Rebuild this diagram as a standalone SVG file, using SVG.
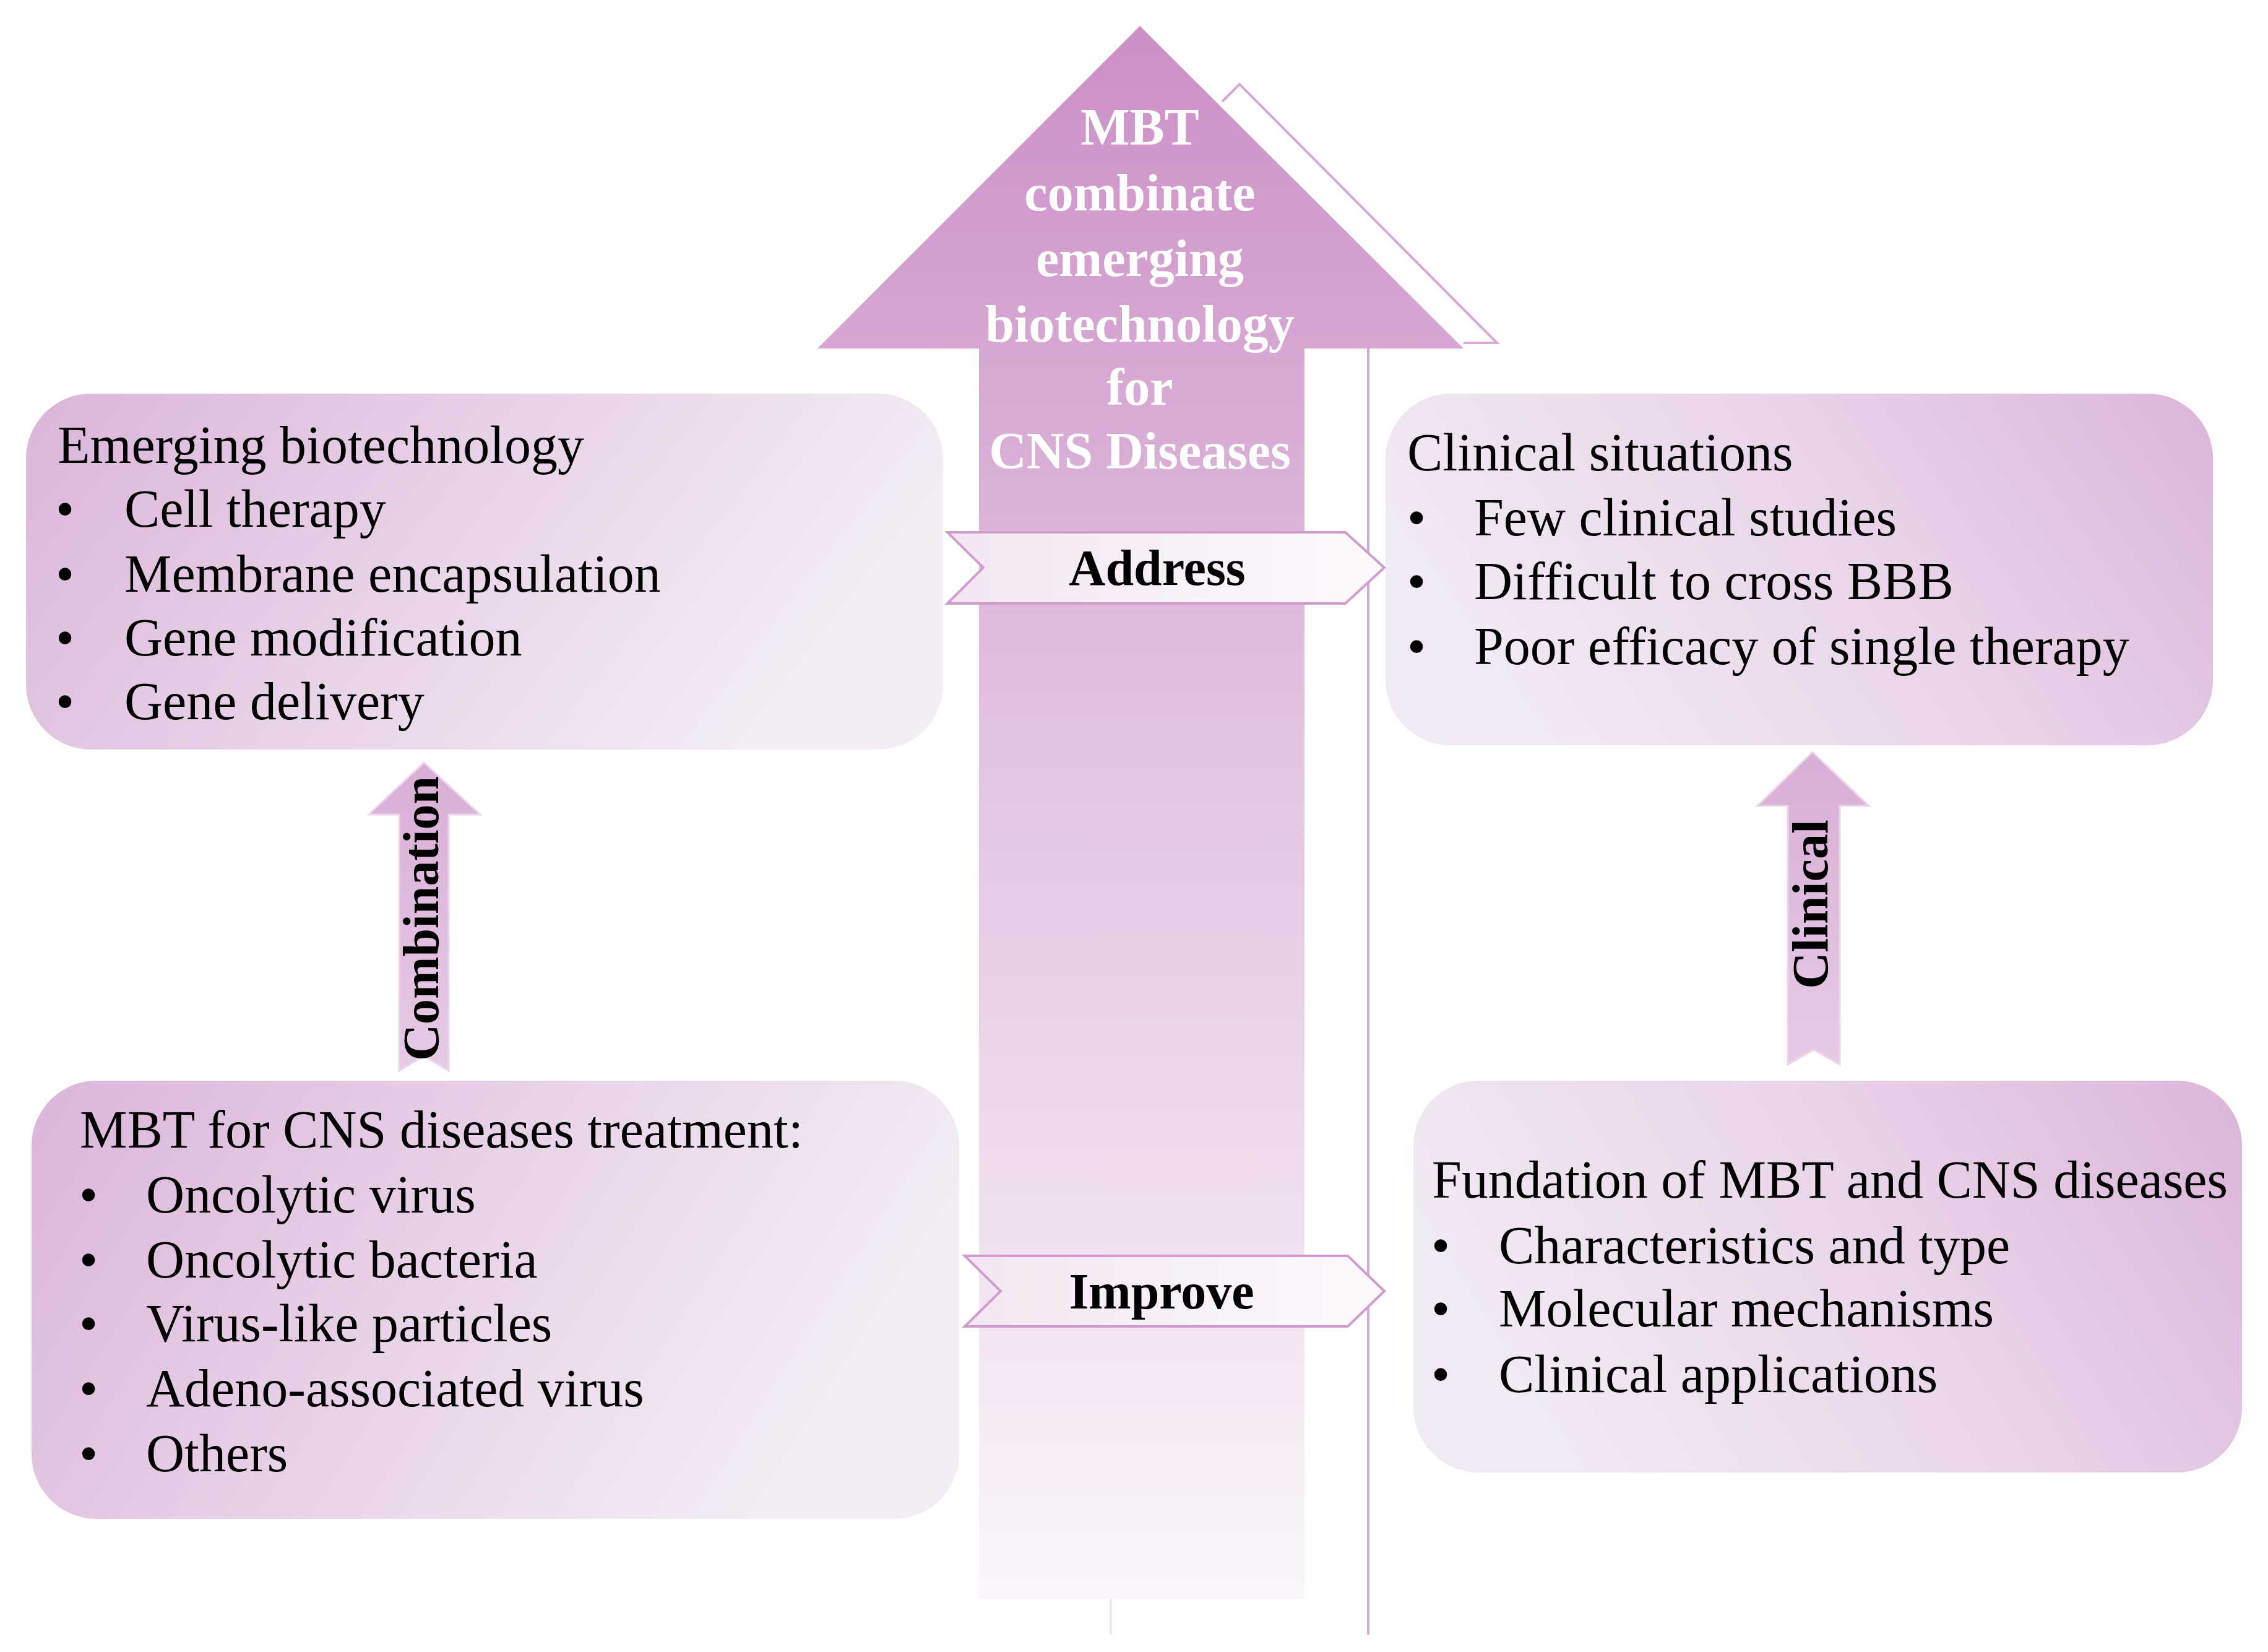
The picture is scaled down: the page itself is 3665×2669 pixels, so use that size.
<svg xmlns="http://www.w3.org/2000/svg" width="3665" height="2669" viewBox="0 0 3665 2669">
<defs>
<linearGradient id="big" x1="0" y1="0" x2="0" y2="1">
<stop offset="0" stop-color="#cc8fc6"/><stop offset="0.45" stop-color="#e2c3e0"/><stop offset="1" stop-color="#fbf6fb"/>
</linearGradient>
<linearGradient id="box" x1="0" y1="0" x2="1" y2="0.3">
<stop offset="0" stop-color="#dbb5d9"/><stop offset="0.6" stop-color="#ead8ea"/><stop offset="1" stop-color="#f3edf5"/>
</linearGradient>
<linearGradient id="boxr" x1="0" y1="0.3" x2="1" y2="0">
<stop offset="0" stop-color="#f1e9f3"/><stop offset="0.5" stop-color="#e9d5e9"/><stop offset="1" stop-color="#dbb5d9"/>
</linearGradient>
<linearGradient id="small" x1="0" y1="0" x2="0" y2="1">
<stop offset="0" stop-color="#d9aed6"/><stop offset="1" stop-color="#e6cbe5"/>
</linearGradient>
<linearGradient id="chev" x1="0" y1="0" x2="1" y2="0">
<stop offset="0" stop-color="#f3e6f2"/><stop offset="1" stop-color="#fdfafd"/>
</linearGradient>
</defs>
<style>
.t{font-family:"Liberation Serif","Times New Roman",serif;font-size:86px;fill:#000}
.w{font-family:"Liberation Serif","Times New Roman",serif;font-size:84px;font-weight:bold;fill:#fff;text-anchor:middle}
.b{font-family:"Liberation Serif","Times New Roman",serif;font-size:82px;font-weight:bold;fill:#000;text-anchor:middle}
.ln{fill:none;stroke:#d9a9d5;stroke-width:4}
</style>
<rect width="3665" height="2669" fill="#fff"/>
<g id="mainArrow">
<polyline class="ln" points="1975,164 2003,136 2419,554 2365,554"/>
<line class="ln" x1="2211" y1="563" x2="2211" y2="2641" stroke-width="3"/>
<line x1="1795" y1="2583" x2="1795" y2="2641" stroke="#eee2ee" stroke-width="3"/>
<polygon points="1842,42 2365,563 2108,563 2108,2583 1582,2583 1582,563 1321,563" fill="url(#big)"/>
<text class="w" x="1842" y="234">MBT</text>
<text class="w" x="1842" y="340">combinate</text>
<text class="w" x="1842" y="446">emerging</text>
<text class="w" x="1842" y="552">biotechnology</text>
<text class="w" x="1842" y="654">for</text>
<text class="w" x="1842" y="757">CNS Diseases</text>
</g>
<g id="emerging">
<rect x="42" y="636" width="1482" height="575" rx="105" fill="url(#box)"/>
<text class="t" x="93" y="748">Emerging biotechnology</text>
<g class="t"><text x="90" y="851">•</text><text x="90" y="956">•</text><text x="90" y="1059">•</text><text x="90" y="1162">•</text></g>
<text class="t" x="201" y="851">Cell therapy</text>
<text class="t" x="201" y="956">Membrane encapsulation</text>
<text class="t" x="201" y="1059">Gene modification</text>
<text class="t" x="201" y="1162">Gene delivery</text>
</g>
<g id="clinical">
<rect x="2239" y="636" width="1337" height="568" rx="105" fill="url(#boxr)"/>
<text class="t" x="2274" y="760">Clinical situations</text>
<g class="t"><text x="2274" y="865">•</text><text x="2274" y="968">•</text><text x="2274" y="1073">•</text></g>
<text class="t" x="2382" y="865">Few clinical studies</text>
<text class="t" x="2382" y="968">Difficult to cross BBB</text>
<text class="t" x="2382" y="1073">Poor efficacy of single therapy</text>
</g>
<g id="mbt">
<rect x="51" y="1746" width="1499" height="708" rx="105" fill="url(#box)"/>
<text class="t" x="129" y="1854">MBT for CNS diseases treatment:</text>
<g class="t"><text x="128" y="1959">•</text><text x="128" y="2064">•</text><text x="128" y="2167">•</text><text x="128" y="2272">•</text><text x="128" y="2377">•</text></g>
<text class="t" x="236" y="1959">Oncolytic virus</text>
<text class="t" x="236" y="2064">Oncolytic bacteria</text>
<text class="t" x="236" y="2167">Virus-like particles</text>
<text class="t" x="236" y="2272">Adeno-associated virus</text>
<text class="t" x="236" y="2377">Others</text>
</g>
<g id="fundation">
<rect x="2284" y="1746" width="1339" height="633" rx="105" fill="url(#boxr)"/>
<text class="t" x="2314" y="1935">Fundation of MBT and CNS diseases</text>
<g class="t"><text x="2313" y="2041">•</text><text x="2313" y="2143">•</text><text x="2313" y="2249">•</text></g>
<text class="t" x="2422" y="2041">Characteristics and type</text>
<text class="t" x="2422" y="2143">Molecular mechanisms</text>
<text class="t" x="2422" y="2249">Clinical applications</text>
</g>
<g id="connectors">
<g id="address">
<polygon points="1531,860 2174,860 2237,917 2174,975 1531,975 1589,917" fill="url(#chev)" stroke="#d39ccf" stroke-width="4"/>
<text class="b" x="1870" y="945">Address</text>
</g>
<g id="improve">
<polygon points="1559,2029 2178,2029 2237,2086 2178,2143 1559,2143 1617,2086" fill="url(#chev)" stroke="#d39ccf" stroke-width="4"/>
<text class="b" x="1877" y="2114">Improve</text>
</g>
<g id="combination">
<polygon points="685,1232 776,1316 725,1316 725,1730 685,1706 645,1730 645,1316 596,1316" fill="url(#small)" stroke="#ecd6ea" stroke-width="3"/>
<text class="b" transform="translate(708,1484) rotate(-90)" font-size="72">Combination</text>
</g>
<g id="clinicalArrow">
<polygon points="2929,1215 3020,1302 2973,1302 2973,1720 2931,1696 2889,1720 2889,1302 2840,1302" fill="url(#small)" stroke="#ecd6ea" stroke-width="3"/>
<text class="b" transform="translate(2953,1461) rotate(-90)" font-size="72">Clinical</text>
</g>
</g>
</svg>
